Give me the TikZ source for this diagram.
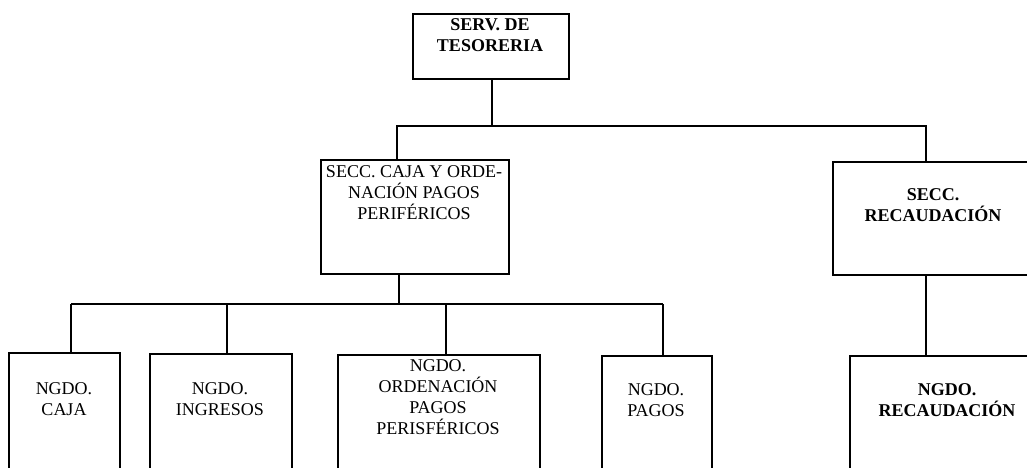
\documentclass[tikz,border=0pt]{standalone}
\usepackage{fontspec}
\setmainfont{Liberation Serif}
\begin{document}
\begin{tikzpicture}[x=1pt,y=-1pt,
  box/.style={draw, line width=1.5pt, rectangle, inner sep=0pt, anchor=north west},
  lbl/.style={anchor=north, align=center, inner sep=0pt, font=\fontsize{18}{21}\selectfont},
  blbl/.style={lbl, font=\fontsize{18}{21}\selectfont\bfseries},
  conn/.style={line width=1.5pt}]
\useasboundingbox (0,0) rectangle (1027,467);
\clip (0,0) rectangle (1027,467);
% boxes
\node[box, minimum width=156pt, minimum height=65pt] (T) at (412,13) {};
\node[box, minimum width=188pt, minimum height=114pt] (M) at (320,159) {};
\node[box, minimum width=203pt, minimum height=113pt] (R) at (832,161) {};
\node[box, minimum width=111pt, minimum height=140pt] (C) at (8,352) {};
\node[box, minimum width=142pt, minimum height=140pt] (I) at (149,353) {};
\node[box, minimum width=202pt, minimum height=140pt] (O) at (337,354) {};
\node[box, minimum width=110pt, minimum height=140pt] (P) at (601,355) {};
\node[box, minimum width=197pt, minimum height=140pt] (N) at (849,355) {};
% labels
\node[blbl] (tT) at (490,18) {SERV. DE\\TESORERIA};
\node[lbl] (tM) at (414,165) {SECC. CAJA Y ORDE-\\NACIÓN  PAGOS\\PERIFÉRICOS};
\node[blbl] (tR) at (933,188) {SECC.\\RECAUDACIÓN};
\node[lbl] (tC) at (64,382) {NGDO.\\CAJA};
\node[lbl] (tI) at (220,382) {NGDO.\\INGRESOS};
\node[lbl] (tO) at (438,359) {NGDO.\\ORDENACIÓN\\PAGOS\\PERISFÉRICOS};
\node[lbl] (tP) at (656,383) {NGDO.\\PAGOS};
\node[blbl] (tN) at (947,383) {NGDO.\\RECAUDACIÓN};
% junctions
\coordinate (h1L) at (397,126);
\coordinate (h1R) at (926,126);
\coordinate (m2) at (399,304);
\coordinate (h2L) at (71,304);
\coordinate (h2I) at (227,304);
\coordinate (h2O) at (446,304);
\coordinate (h2R) at (663,304);
% connectors
\draw[conn] (T.south -| 492,0) -- (h1L -| 492,0);
\draw[conn] (M.north -| h1L) -- (h1L) -- (h1R) -- (R.north -| h1R);
\draw[conn] (M.south -| m2) -- (m2);
\draw[conn] (h2L) -- (h2R);
\draw[conn] (h2L) -- (C.north -| h2L);
\draw[conn] (h2I) -- (I.north -| h2I);
\draw[conn] (h2O) -- (O.north -| h2O);
\draw[conn] (h2R) -- (P.north -| h2R);
\draw[conn] (R.south -| h1R) -- (N.north -| h1R);
\end{tikzpicture}
\end{document}
